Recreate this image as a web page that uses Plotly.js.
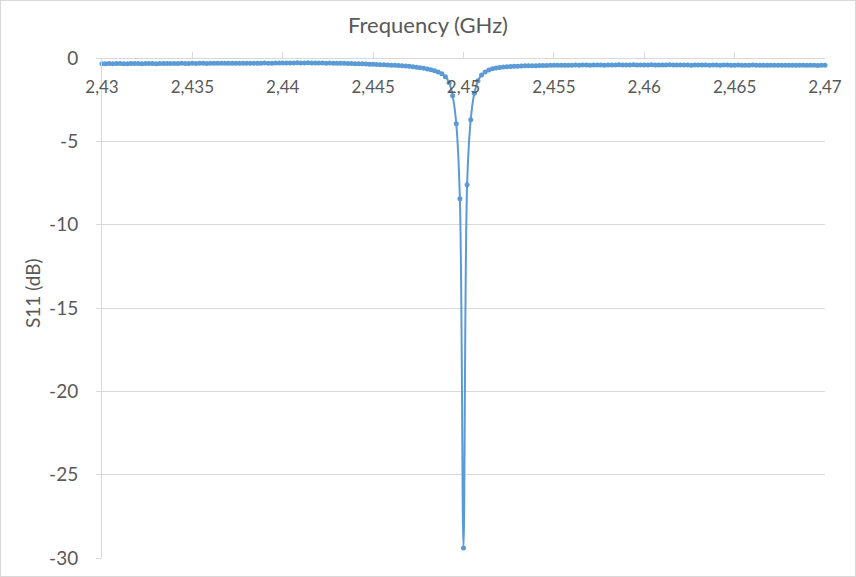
<!DOCTYPE html>
<html>
<head>
<meta charset="utf-8">
<script src="https://cdn.plot.ly/plotly-3.0.1.min.js"></script>
<style>
  html, body { margin: 0; padding: 0; background: #ffffff; }
  #wrap { position: relative; width: 856px; height: 577px; }
  #chart { width: 856px; height: 577px; }
  #frame { position: absolute; left: 0; top: 0; width: 854px; height: 575px; border: 1px solid #d9d9d9; pointer-events: none; }
</style>
</head>
<body>
<div id="wrap"><div id="chart"></div><div id="frame"></div></div>
<script>
// Frequency (GHz)
const freqGHz = [
  2.4300,2.4302,2.4304,2.4306,2.4308,2.4310,2.4312,2.4314,2.4316,2.4318,
  2.4320,2.4322,2.4324,2.4326,2.4328,2.4330,2.4332,2.4334,2.4336,2.4338,
  2.4340,2.4342,2.4344,2.4346,2.4348,2.4350,2.4352,2.4354,2.4356,2.4358,
  2.4360,2.4362,2.4364,2.4366,2.4368,2.4370,2.4372,2.4374,2.4376,2.4378,
  2.4380,2.4382,2.4384,2.4386,2.4388,2.4390,2.4392,2.4394,2.4396,2.4398,
  2.4400,2.4402,2.4404,2.4406,2.4408,2.4410,2.4412,2.4414,2.4416,2.4418,
  2.4420,2.4422,2.4424,2.4426,2.4428,2.4430,2.4432,2.4434,2.4436,2.4438,
  2.4440,2.4442,2.4444,2.4446,2.4448,2.4450,2.4452,2.4454,2.4456,2.4458,
  2.4460,2.4462,2.4464,2.4466,2.4468,2.4470,2.4472,2.4474,2.4476,2.4478,
  2.4480,2.4482,2.4484,2.4486,2.4488,2.4490,2.4492,2.4494,2.4496,2.4498,
  2.4500,2.4502,2.4504,2.4506,2.4508,2.4510,2.4512,2.4514,2.4516,2.4518,
  2.4520,2.4522,2.4524,2.4526,2.4528,2.4530,2.4532,2.4534,2.4536,2.4538,
  2.4540,2.4542,2.4544,2.4546,2.4548,2.4550,2.4552,2.4554,2.4556,2.4558,
  2.4560,2.4562,2.4564,2.4566,2.4568,2.4570,2.4572,2.4574,2.4576,2.4578,
  2.4580,2.4582,2.4584,2.4586,2.4588,2.4590,2.4592,2.4594,2.4596,2.4598,
  2.4600,2.4602,2.4604,2.4606,2.4608,2.4610,2.4612,2.4614,2.4616,2.4618,
  2.4620,2.4622,2.4624,2.4626,2.4628,2.4630,2.4632,2.4634,2.4636,2.4638,
  2.4640,2.4642,2.4644,2.4646,2.4648,2.4650,2.4652,2.4654,2.4656,2.4658,
  2.4660,2.4662,2.4664,2.4666,2.4668,2.4670,2.4672,2.4674,2.4676,2.4678,
  2.4680,2.4682,2.4684,2.4686,2.4688,2.4690,2.4692,2.4694,2.4696,2.4698,
  2.4700
];

// S11 (dB)
const s11dB = [
  -0.34,-0.34,-0.33,-0.34,-0.33,-0.33,-0.34,-0.34,-0.33,-0.33,
  -0.33,-0.34,-0.33,-0.33,-0.33,-0.34,-0.33,-0.33,-0.33,-0.33,
  -0.33,-0.33,-0.32,-0.33,-0.33,-0.32,-0.33,-0.32,-0.32,-0.33,
  -0.32,-0.32,-0.32,-0.32,-0.31,-0.32,-0.32,-0.31,-0.31,-0.32,
  -0.31,-0.31,-0.31,-0.31,-0.31,-0.30,-0.31,-0.31,-0.30,-0.30,
  -0.30,-0.30,-0.30,-0.30,-0.29,-0.30,-0.30,-0.29,-0.30,-0.30,
  -0.30,-0.30,-0.31,-0.30,-0.31,-0.31,-0.32,-0.32,-0.33,-0.33,
  -0.34,-0.35,-0.35,-0.36,-0.37,-0.38,-0.39,-0.40,-0.41,-0.42,
  -0.43,-0.44,-0.45,-0.46,-0.48,-0.50,-0.52,-0.55,-0.58,-0.62,
  -0.66,-0.70,-0.76,-0.84,-0.94,-1.12,-1.47,-2.27,-3.95,-8.45,
  -29.40,
  -7.60,-3.70,-2.12,-1.37,-1.02,-0.84,-0.72,-0.65,-0.60,-0.57,
  -0.54,-0.52,-0.51,-0.50,-0.49,-0.48,-0.47,-0.47,-0.46,-0.46,
  -0.45,-0.45,-0.45,-0.44,-0.44,-0.44,-0.43,-0.43,-0.43,-0.43,
  -0.42,-0.43,-0.42,-0.42,-0.43,-0.42,-0.42,-0.42,-0.43,-0.42,
  -0.42,-0.42,-0.41,-0.42,-0.42,-0.42,-0.41,-0.42,-0.42,-0.42,
  -0.42,-0.41,-0.42,-0.42,-0.42,-0.42,-0.41,-0.42,-0.42,-0.42,
  -0.42,-0.42,-0.43,-0.42,-0.42,-0.42,-0.42,-0.43,-0.42,-0.42,
  -0.43,-0.42,-0.42,-0.43,-0.43,-0.42,-0.43,-0.43,-0.43,-0.42,
  -0.43,-0.43,-0.43,-0.43,-0.44,-0.43,-0.43,-0.44,-0.43,-0.44,
  -0.44,-0.43,-0.44,-0.44,-0.44,-0.44,-0.44,-0.45,-0.44,-0.44
];

const xTickVals = [2.43, 2.435, 2.44, 2.445, 2.45, 2.455, 2.46, 2.465, 2.47];
const xTickLabels = ["2,43", "2,435", "2,44", "2,445", "2,45", "2,455", "2,46", "2,465", "2,47"];
const yTickVals = [0, -5, -10, -15, -20, -25, -30];
const yTickLabels = ["0", "-5", "-10", "-15", "-20", "-25", "-30"];

const xTitle = "Frequency (GHz)";
const yTitle = "S11 (dB)";

const blue = "#5b9bd5";
const textGray = "#595959";
const gridGray = "#d9d9d9";
const font = "Lato, 'Open Sans', sans-serif";

const trace = {
  type: "scatter",
  mode: "lines+markers",
  x: freqGHz,
  y: s11dB,
  line: { color: blue, width: 2, shape: "spline", smoothing: 1 },
  marker: { color: blue, size: 5 },
  cliponaxis: false,
  hoverinfo: "x+y"
};

const layout = {
  width: 856,
  height: 577,
  paper_bgcolor: "#ffffff",
  plot_bgcolor: "#ffffff",
  margin: { l: 102, r: 31, t: 58, b: 19, pad: 0 },
  showlegend: false,
  font: { family: font, color: textGray, size: 17 },
  title: {
    text: xTitle,
    font: { family: font, size: 22, color: textGray },
    xref: "container", x: 0.5, xanchor: "center",
    yref: "container", y: 1 - 25 / 577, yanchor: "middle"
  },
  xaxis: {
    range: [2.43, 2.47],
    anchor: "free",
    position: 1,
    side: "bottom",
    tickmode: "array",
    tickvals: xTickVals,
    ticktext: xTickLabels,
    ticks: "inside",
    ticklen: 6,
    tickcolor: gridGray,
    tickwidth: 1,
    ticklabelstandoff: 14,
    showline: true,
    linecolor: gridGray,
    linewidth: 1,
    showgrid: false,
    zeroline: false,
    tickfont: { family: font, size: 17, color: textGray }
  },
  yaxis: {
    range: [-30, 0],
    tickmode: "array",
    tickvals: yTickVals,
    ticktext: yTickLabels,
    ticks: "outside",
    ticklen: 5,
    tickcolor: gridGray,
    tickwidth: 1,
    ticklabelstandoff: 14,
    showline: true,
    linecolor: gridGray,
    linewidth: 1,
    showgrid: true,
    gridcolor: gridGray,
    gridwidth: 1,
    zeroline: false,
    tickfont: { family: font, size: 19, color: textGray }
  },
  annotations: [{
    text: yTitle,
    xref: "paper", yref: "paper",
    x: (32 - 102) / 723, y: (558 - 293) / 500,
    xanchor: "center", yanchor: "middle",
    textangle: -90,
    showarrow: false,
    font: { family: font, size: 19, color: textGray }
  }]
};

Plotly.newPlot("chart", [trace], layout, { staticPlot: true, displayModeBar: false });
</script>
</body>
</html>
